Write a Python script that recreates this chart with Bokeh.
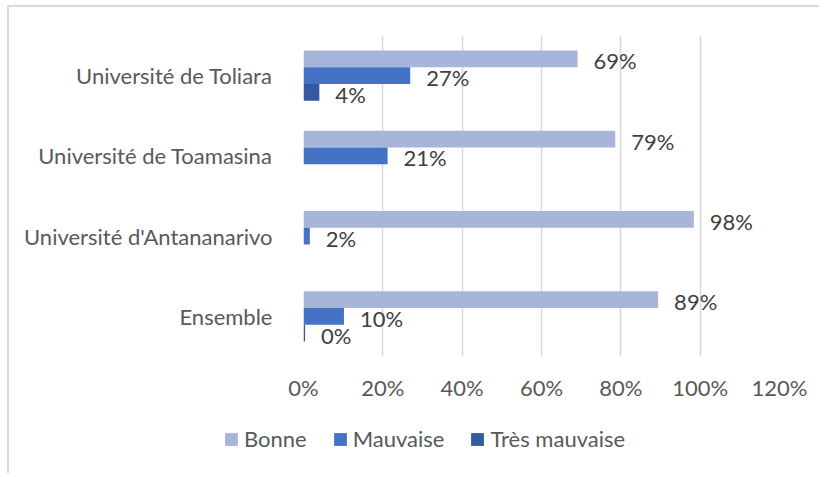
from bokeh.plotting import figure
from bokeh.models import FactorRange, FixedTicker, PrintfTickFormatter, ColumnDataSource, Legend, LegendItem
from bokeh.transform import dodge
from bokeh.core.properties import value
from bokeh.embed import file_html
from bokeh.resources import INLINE

categories = ["Ensemble", "Université d'Antananarivo", "Université de Toamasina", "Université de Toliara"]
bonne = [89.4, 98.4, 78.6, 69.1]
mauvaise = [10.2, 1.6, 21.2, 26.9]
tres_mauvaise = [0.4, 0.0, 0.0, 4.0]
series_names = ["Bonne", "Mauvaise", "Très mauvaise"]
colors = ["#A7B5DB", "#4472C4", "#345B9F"]
x_ticks = [0, 20, 40, 60, 80, 100, 120]

FONT = "Lato"
FS = "22px"

W = 812
H1, H2 = 403, 65
p = figure(y_range=FactorRange(*categories), x_range=(0, 120), width=W, height=H1,
           output_backend="svg", toolbar_location=None,
           min_border_left=294, min_border_right=42, min_border_top=28, min_border_bottom=54)
p.outline_line_color = None
p.background_fill_color = "white"
p.border_fill_color = "white"
p.styles = {"border-top": "2px solid #d9d9d9", "border-left": "2px solid #d9d9d9",
            "margin-top": "5px", "margin-left": "7px"}

src = ColumnDataSource(dict(cat=categories, b=bonne, m=mauvaise, t=tres_mauvaise,
                            bl=[f"{round(v)}%" for v in bonne],
                            ml=[f"{round(v)}%" for v in mauvaise]))
bh = 0.208
vals = [("b", bh), ("m", 0.0), ("t", -bh)]
for (col, off), c in zip(vals, colors):
    p.hbar(y=dodge("cat", off, range=p.y_range), right=col, left=0, height=bh,
           source=src, fill_color=c, line_color=None)

# data labels
p.text(x="b", y=dodge("cat", bh, range=p.y_range), text="bl", source=src,
       x_offset=16, y_offset=2, text_align="left", text_baseline="middle",
       text_font=value(FONT), text_font_size=FS, text_color="#404040")
p.text(x="m", y=dodge("cat", 0.0, range=p.y_range), text="ml", source=src,
       x_offset=16, y_offset=2, text_align="left", text_baseline="middle",
       text_font=value(FONT), text_font_size=FS, text_color="#404040")
t_idx = [i for i, v in enumerate(tres_mauvaise) if v > 0]
tsrc = ColumnDataSource(dict(cat=[categories[i] for i in t_idx],
                             t=[tres_mauvaise[i] for i in t_idx],
                             tl=[f"{round(tres_mauvaise[i])}%" for i in t_idx]))
p.text(x="t", y=dodge("cat", -bh, range=p.y_range), text="tl", source=tsrc,
       x_offset=16, y_offset=2, text_align="left", text_baseline="middle",
       text_font=value(FONT), text_font_size=FS, text_color="#404040")

# axes
p.xaxis.ticker = FixedTicker(ticks=x_ticks)
p.xaxis.formatter = PrintfTickFormatter(format="%d%%")
for ax in (p.xaxis[0], p.yaxis[0]):
    ax.axis_line_color = None
    ax.major_tick_line_color = None
    ax.minor_tick_line_color = None
    ax.major_label_text_font = FONT
    ax.major_label_text_font_size = FS
    ax.major_label_text_color = "#595959"
p.xaxis.major_label_standoff = 11
p.yaxis.major_label_standoff = 25

p.xgrid.grid_line_color = "#d9d9d9"
p.xgrid.grid_line_width = 1.5
p.ygrid.grid_line_color = None

# legend strip below the chart (separate root so its frame spans the full width)
lg = figure(width=W, height=H2, x_range=(0, 1), y_range=(0, 1), output_backend="svg",
            toolbar_location=None, min_border=0, x_axis_location=None, y_axis_location=None)
lg.grid.visible = False
lg.outline_line_color = None
lg.border_fill_alpha = 0
lg.background_fill_alpha = 0
lg.styles = {"border-left": "2px solid #d9d9d9", "margin-left": "7px"}
lg_src = ColumnDataSource(dict(y=[0.5], left=[0.0], right=[0.0]))
lg_renderers = [lg.hbar(y="y", left="left", right="right", height=0.0, source=lg_src,
                        fill_color=c, line_color=None) for c in colors]
legend = Legend(items=[LegendItem(label=n, renderers=[r]) for n, r in zip(series_names, lg_renderers)],
                orientation="horizontal", location=(214, 21),
                glyph_width=16, glyph_height=16, label_standoff=5, spacing=25,
                padding=0, margin=0, border_line_color=None, background_fill_alpha=0,
                label_text_font=FONT, label_text_font_size=FS, label_text_color="#595959")
lg.add_layout(legend, "center")

open("out.html", "w").write(file_html([p, lg], INLINE))
